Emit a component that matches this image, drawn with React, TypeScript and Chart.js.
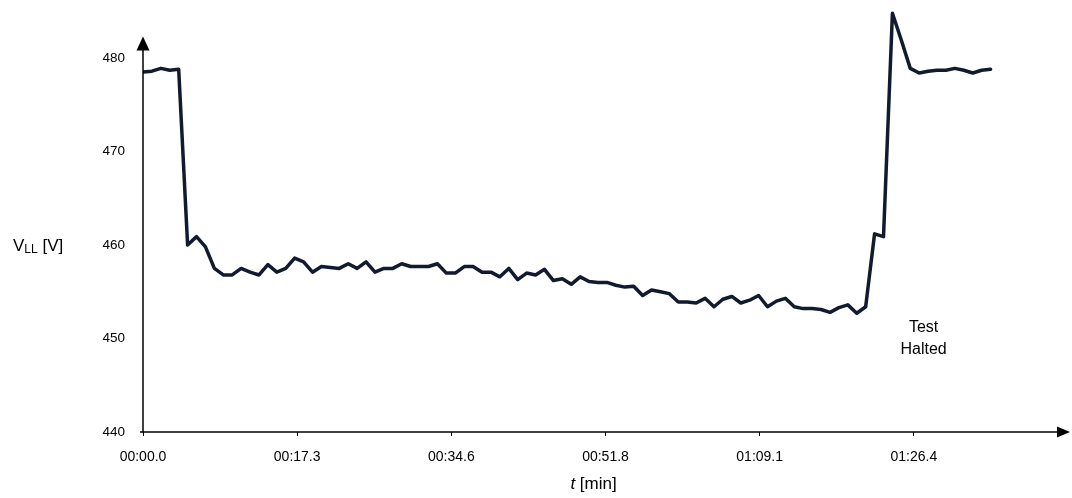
import React, { useEffect, useRef } from "react";
import { Chart, registerables } from "chart.js";

Chart.register(...registerables);

// time of each sample [s]
const timeSec = [
  0, 1, 2, 3, 4, 5, 6, 7, 8, 9, 10, 11, 12, 13, 14, 15, 16, 17, 18, 19,
  20, 21, 22, 23, 24, 25, 26, 27, 28, 29, 30, 31, 32, 33, 34, 35, 36, 37, 38, 39,
  40, 41, 42, 43, 44, 45, 46, 47, 48, 49, 50, 51, 52, 53, 54, 55, 56, 57, 58, 59,
  60, 61, 62, 63, 64, 65, 66, 67, 68, 69, 70, 71, 72, 73, 74, 75, 76, 77, 78, 79,
  80, 81, 82, 83, 84, 85, 86, 87, 88, 89, 90, 91, 92, 93, 94, 95,
];

// line-to-line voltage [V]
const vLL = [
  478.5, 478.6, 478.9, 478.7, 478.8, 460.0, 460.9, 459.8, 457.5, 456.8,
  456.8, 457.5, 457.1, 456.8, 457.9, 457.1, 457.5, 458.6, 458.2, 457.1,
  457.7, 457.6, 457.5, 458.0, 457.5, 458.2, 457.1, 457.5, 457.5, 458.0,
  457.7, 457.7, 457.7, 458.0, 457.0, 457.0, 457.7, 457.7, 457.1, 457.1,
  456.6, 457.5, 456.3, 457.0, 456.8, 457.4, 456.2, 456.4, 455.8, 456.6,
  456.1, 456.0, 456.0, 455.7, 455.5, 455.6, 454.6, 455.2, 455.0, 454.8,
  453.9, 453.9, 453.8, 454.3, 453.4, 454.2, 454.5, 453.8, 454.1, 454.6,
  453.4, 454.0, 454.3, 453.4, 453.2, 453.2, 453.1, 452.8, 453.3, 453.6,
  452.7, 453.4, 461.2, 460.9, 484.8, 481.9, 478.9, 478.4, 478.6, 478.7,
  478.7, 478.9, 478.7, 478.4, 478.7, 478.8,
];

const xTickValues = [0, 17.28, 34.56, 51.84, 69.12, 86.4];
const xTickLabels = ["00:00.0", "00:17.3", "00:34.6", "00:51.8", "01:09.1", "01:26.4"];
const yTickValues = [440, 450, 460, 470, 480];

const X_MIN = 0;
const X_MAX = 103.68;
const Y_MIN = 440;
const Y_MAX = 486;
const Y_ARROW_TIP = 482.3;

const annotationLines = ["Test", "Halted"];
const annotationAt = { x: 87.5, y: 451.2 };

const FONT = '"Liberation Sans", Arial, Helvetica, sans-serif';

const axesPlugin = {
  id: "axesArrows",
  afterDraw(chart: any) {
    const ctx = chart.ctx;
    const xs = chart.scales.x;
    const ys = chart.scales.y;
    const x0 = xs.getPixelForValue(X_MIN);
    const y0 = ys.getPixelForValue(Y_MIN);
    const xTip = xs.getPixelForValue(X_MAX);
    const yTip = ys.getPixelForValue(Y_ARROW_TIP);
    ctx.save();
    ctx.strokeStyle = "#000";
    ctx.fillStyle = "#000";
    ctx.lineWidth = 1.5;
    // y axis
    ctx.beginPath();
    ctx.moveTo(x0, y0 + 0.5);
    ctx.lineTo(x0, yTip + 10);
    ctx.stroke();
    ctx.beginPath();
    ctx.moveTo(x0, yTip);
    ctx.lineTo(x0 - 6.5, yTip + 14);
    ctx.lineTo(x0 + 6.5, yTip + 14);
    ctx.closePath();
    ctx.fill();
    // x axis
    ctx.beginPath();
    ctx.moveTo(x0 - 3, y0);
    ctx.lineTo(xTip - 10, y0);
    ctx.stroke();
    ctx.beginPath();
    ctx.moveTo(xTip + 2, y0);
    ctx.lineTo(xTip - 11, y0 - 5.5);
    ctx.lineTo(xTip - 11, y0 + 5.5);
    ctx.closePath();
    ctx.fill();

    // y title: V_LL [V]
    const yMid = ys.getPixelForValue(459.9);
    ctx.textBaseline = "middle";
    ctx.textAlign = "left";
    ctx.font = `17px ${FONT}`;
    let tx = 13;
    ctx.fillText("V", tx, yMid);
    tx += ctx.measureText("V").width;
    ctx.font = `12px ${FONT}`;
    ctx.fillText("LL", tx, yMid + 4);
    tx += ctx.measureText("LL").width;
    ctx.font = `17px ${FONT}`;
    ctx.fillText(" [V]", tx, yMid);

    // x title: t [min]
    const xMid = xs.getPixelForValue(50.5);
    const tPart = "t";
    const rest = " [min]";
    ctx.font = `italic 17px ${FONT}`;
    const w1 = ctx.measureText(tPart).width;
    ctx.font = `17px ${FONT}`;
    const w2 = ctx.measureText(rest).width;
    const sx = xMid - (w1 + w2) / 2;
    ctx.font = `italic 17px ${FONT}`;
    ctx.fillText(tPart, sx, 484);
    ctx.font = `17px ${FONT}`;
    ctx.fillText(rest, sx + w1, 484);

    // annotation
    ctx.textAlign = "center";
    ctx.font = `16px ${FONT}`;
    const ax = xs.getPixelForValue(annotationAt.x);
    const ay = ys.getPixelForValue(annotationAt.y);
    annotationLines.forEach((s, i) => ctx.fillText(s, ax, ay + i * 22));
    ctx.restore();
  },
};

export default function App() {
  const canvasRef = useRef<HTMLCanvasElement | null>(null);

  useEffect(() => {
    if (!canvasRef.current) return;
    const chart = new Chart(canvasRef.current, {
      type: "line",
      data: {
        datasets: [
          {
            data: timeSec.map((t, i) => ({ x: t, y: vLL[i] })),
            borderColor: "#111a2e",
            borderWidth: 3.5,
            pointRadius: 0,
            tension: 0,
            fill: false,
            borderJoinStyle: "round",
            borderCapStyle: "round",
          },
        ],
      },
      options: {
        animation: false,
        responsive: true,
        maintainAspectRatio: false,
        layout: { padding: { top: 2, right: 4, left: 0, bottom: 0 } },
        plugins: { legend: { display: false }, tooltip: { enabled: false } },
        scales: {
          x: {
            type: "linear",
            min: X_MIN,
            max: X_MAX,
            afterBuildTicks: (scale: any) => {
              scale.ticks = xTickValues.map((v) => ({ value: v }));
            },
            afterFit: (scale: any) => {
              scale.height = 66;
              scale.paddingLeft = 0;
              scale.paddingRight = 0;
            },
            ticks: {
              autoSkip: false,
              maxRotation: 0,
              padding: 13,
              color: "#000",
              font: { family: FONT, size: 14 },
              callback: (_v: any, i: number) => xTickLabels[i],
            },
            grid: {
              drawOnChartArea: false,
              drawTicks: true,
              tickLength: 4,
              color: "#000",
              lineWidth: 1,
            },
            border: { display: false },
          },
          y: {
            type: "linear",
            min: Y_MIN,
            max: Y_MAX,
            afterBuildTicks: (scale: any) => {
              scale.ticks = yTickValues.map((v) => ({ value: v }));
            },
            afterFit: (scale: any) => {
              scale.width = 143;
              scale.paddingTop = 0;
              scale.paddingBottom = 0;
            },
            ticks: {
              padding: 18,
              color: "#000",
              font: { family: FONT, size: 13.5 },
            },
            grid: { display: false, drawTicks: false },
            border: { display: false },
          },
        },
      },
      plugins: [axesPlugin],
    });
    return () => chart.destroy();
  }, []);

  return (
    <div style={{ position: "fixed", left: 0, top: 0, width: 1072, height: 498, background: "#fff" }}>
      <canvas ref={canvasRef} />
    </div>
  );
}
